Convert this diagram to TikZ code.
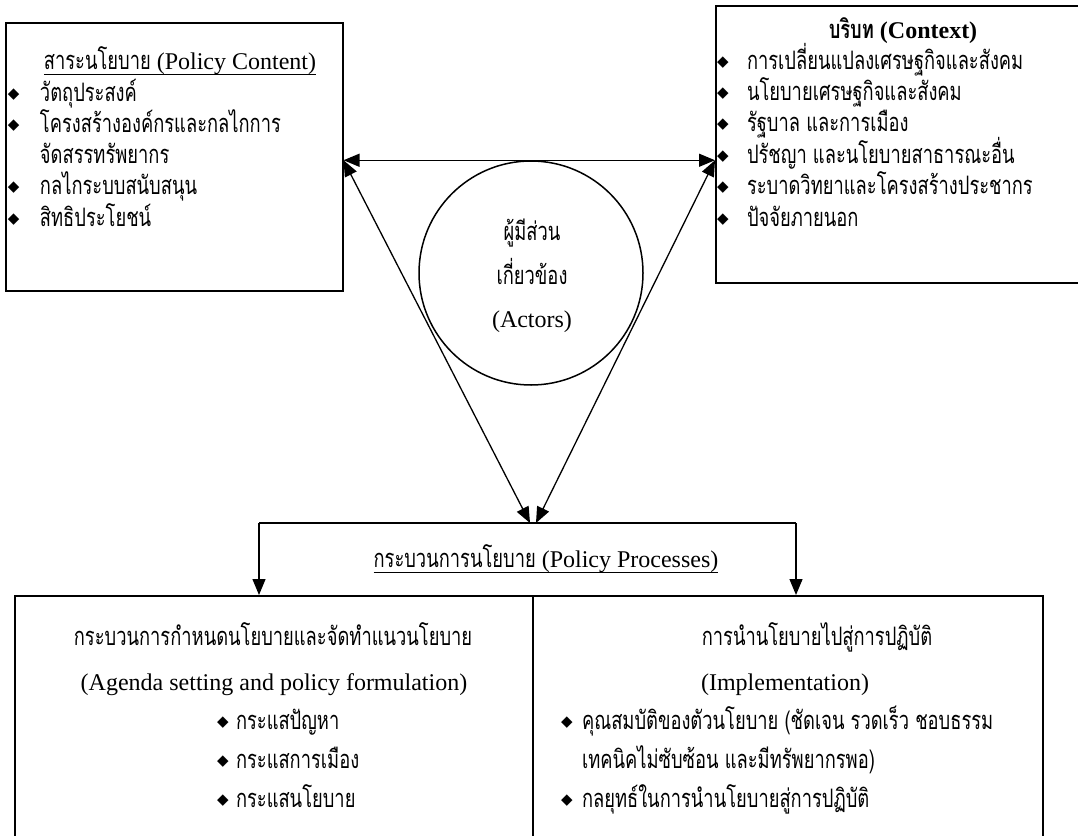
\documentclass[tikz,border=0pt]{standalone}
\usepackage{fontspec}
\setmainfont{Liberation Serif}
\newfontfamily\thai[Script=Thai,Scale=1.06,FakeStretch=0.72]{Loma}
\newfontfamily\dv{DejaVu Sans}
\usetikzlibrary{arrows.meta}
\newcommand\bul{\raisebox{3pt}{\fontsize{15}{15}\selectfont\dv ◆}}
\newcommand\bitemA{\makebox[32pt][l]{\bul}}
\newcommand\bitemB{\makebox[30pt][l]{\bul}}
\newcommand\bitemC{\makebox[19pt][l]{\bul}}
\newcommand\bitemD{\makebox[21pt][l]{\bul}}
\tikzset{
  boxst/.style={draw, line width=1.5pt, inner sep=0pt},
  txt/.style={inner sep=0pt, outer sep=0pt},
  conn/.style={line width=1.3pt},
  arr/.style={conn, -{Triangle[length=16pt,width=13pt]}},
  darr/.style={conn, {Triangle[length=16pt,width=13pt]}-{Triangle[length=16pt,width=13pt]}},
  uline/.style={line width=1pt}
}
\begin{document}
\begin{tikzpicture}[x=1pt,y=-1pt,font=\fontsize{24}{30}\selectfont]
\useasboundingbox[fill=white] (0,0) rectangle (1078,835);

% boxes
\node[boxst, anchor=north west, minimum width=337pt, minimum height=268pt] (content) at (5,22) {};
\node[boxst, anchor=north west, minimum width=380pt, minimum height=277pt] (context) at (715,5) {};
\node[draw, circle, line width=1.5pt, minimum size=224pt, inner sep=0pt] (actors) at (531,273) {};
\node[boxst, anchor=north west, minimum width=518pt, minimum height=260pt] (agenda) at (14,595) {};
\node[boxst, anchor=north west, minimum width=510pt, minimum height=260pt] (impl) at (532,595) {};

% policy content
\node[txt, anchor=base] (ctitle) at (180,69) {{\thai สาระนโยบาย} (Policy Content)};
\draw[uline] ([yshift=-5pt]ctitle.base west) -- ([yshift=-5pt]ctitle.base east);
\foreach \x [count=\i] in {
  {\bitemA{\thai วัตถุประสงค์}},
  {\bitemA{\thai โครงสร้างองค์กรและกลไกการ}},
  {\hspace*{32pt}{\thai จัดสรรทรัพยากร}},
  {\bitemA{\thai กลไกระบบสนับสนุน}},
  {\bitemA{\thai สิทธิประโยชน์}}}
{\node[txt, anchor=base west] (cl\i) at (8,{101+31.3*(\i-1)}) {\x};}

% context
\node[txt, anchor=base, font=\fontsize{24}{30}\selectfont\bfseries] (xtitle) at (903,38) {{\thai บริบท} (Context)};
\foreach \x [count=\i] in {
  {\bitemB{\thai การเปลี่ยนแปลงเศรษฐกิจและสังคม}},
  {\bitemB{\thai นโยบายเศรษฐกิจและสังคม}},
  {\bitemB{\thai รัฐบาล และการเมือง}},
  {\bitemB{\thai ปรัชญา และนโยบายสาธารณะอื่น}},
  {\bitemB{\thai ระบาดวิทยาและโครงสร้างประชากร}},
  {\bitemB{\thai ปัจจัยภายนอก}}}
{\node[txt, anchor=base west] (xl\i) at (717,{69+31.4*(\i-1)}) {\x};}

% actors
\node[txt, anchor=base] (act1) at (532,240) {\thai ผู้มีส่วน};
\node[txt, anchor=base] (act2) at (532,284) {\thai เกี่ยวข้อง};
\node[txt, anchor=base] (act3) at (532,327) {(Actors)};

% connectors
\coordinate (meet) at (533,523);
\coordinate (brL) at (259,523);
\coordinate (brR) at (796,523);
\draw[darr] (content.east |- actors.north) -- (context.west |- actors.north);
\draw[darr] (content.east |- actors.north) -- ([xshift=-3pt]meet);
\draw[darr] (context.west |- actors.north) -- ([xshift=3pt]meet);
\draw[conn] (brL) -- (brR);
\draw[arr] (brL) -- (brL |- agenda.north);
\draw[arr] (brR) -- (brR |- impl.north);

% process label
\node[txt, anchor=base] (proc) at (546,567) {{\thai กระบวนการนโยบาย} (Policy Processes)};
\draw[uline] ([yshift=-5pt]proc.base west) -- ([yshift=-5pt]proc.base east);

% agenda box text
\node[txt, anchor=base] (ag1) at (273,645) {\thai กระบวนการกำหนดนโยบายและจัดทำแนวนโยบาย};
\node[txt, anchor=base] (ag2) at (274,690) {(Agenda setting and policy formulation)};
\foreach \x [count=\i] in {
  {\bitemC{\thai กระแสปัญหา}},
  {\bitemC{\thai กระแสการเมือง}},
  {\bitemC{\thai กระแสนโยบาย}}}
{\node[txt, anchor=base west] (al\i) at (217,{729+39*(\i-1)}) {\x};}

% implementation box text
\node[txt, anchor=base] (im1) at (817,645) {\thai การนำนโยบายไปสู่การปฏิบัติ};
\node[txt, anchor=base] (im2) at (785,690) {(Implementation)};
\foreach \x [count=\i] in {
  {\bitemD{\thai คุณสมบัติของตัวนโยบาย (ชัดเจน รวดเร็ว ชอบธรรม}},
  {\hspace*{21pt}{\thai เทคนิคไม่ซับซ้อน และมีทรัพยากรพอ)}},
  {\bitemD{\thai กลยุทธ์ในการนำนโยบายสู่การปฏิบัติ}}}
{\node[txt, anchor=base west] (il\i) at (561,{729+39*(\i-1)}) {\x};}
\end{tikzpicture}
\end{document}
